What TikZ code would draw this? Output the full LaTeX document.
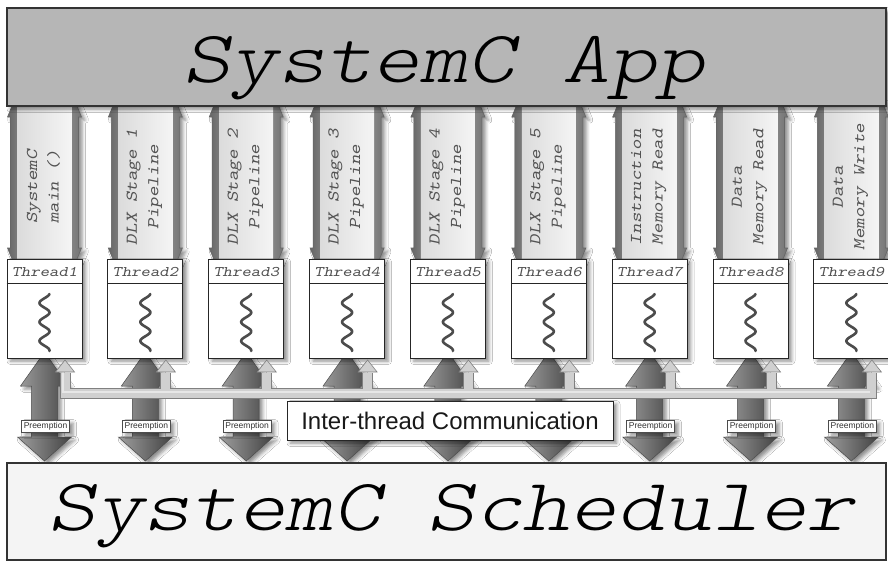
\documentclass[tikz,border=0pt]{standalone}
\usepackage{fontspec}
\newfontfamily\sansf{Liberation Sans}
\usetikzlibrary{shadows.blur}
\definecolor{appgray}{RGB}{182,182,182}
\definecolor{schedfill}{RGB}{244,244,244}
\definecolor{pipegray}{RGB}{208,208,208}
% slanted typewriter text, widened to Courier proportions
\newcommand\courtext[1]{\scalebox{1.22}[1]{\ttfamily\slshape #1}}
\newcommand\courlight[1]{\scalebox{1.22}[1]{\ttfamily\fontseries{l}\slshape #1}}
\tikzset{
  softshadow/.style={blur shadow={shadow xshift=3.5pt, shadow yshift=-3pt,
      shadow blur radius=3.5pt, shadow opacity=45}},
  banner/.style={draw=black!80, line width=1.1pt, inner sep=0pt},
  bigtext/.style={font=\fontsize{74}{75}\selectfont,
      text=black, inner sep=0pt},
  coltext/.style={font=\fontsize{16.5}{21.5}\selectfont,
      text=black!68, align=center, inner sep=0pt},
  threadbox/.style={draw=black!85, line width=0.8pt, fill=white,
      minimum width=75pt, minimum height=99pt, inner sep=0pt},
  threadlabel/.style={font=\fontsize{14.7}{15}\selectfont,
      text=black!68, inner sep=0pt},
  squig/.style={line width=2.6pt, black!70, line cap=round},
  prelabel/.style={draw=black!70, line width=0.5pt, fill=white,
      font=\sansf\fontsize{8.5}{9}\selectfont, text=black!80,
      minimum width=48pt, minimum height=12pt, inner sep=0.5pt},
  commbox/.style={draw=black!85, line width=0.9pt, fill=white,
      font=\sansf\fontsize{24}{26}\selectfont, text=black!90,
      minimum width=326pt, minimum height=39pt, inner sep=0pt},
  twoway/.style={draw=black!60, line width=0.6pt},
  pre/.style={draw=black!70, line width=0.5pt, left color=black!38, right color=black!74},
  smallhead/.style={draw=black!50, line width=0.6pt, fill=pipegray},
}
\begin{document}
\begin{tikzpicture}[x=1pt,y=-1pt]
\useasboundingbox (0,0) rectangle (888,562);
\fill[white] (0,0) rectangle (888,562);

% vertical two-way arrows between the application and the threads
\foreach \i/\a/\b in {1/{SystemC}/{main ()},
                      2/{DLX Stage 1}/{Pipeline},
                      3/{DLX Stage 2}/{Pipeline},
                      4/{DLX Stage 3}/{Pipeline},
                      5/{DLX Stage 4}/{Pipeline},
                      6/{DLX Stage 5}/{Pipeline},
                      7/{Instruction}/{Memory Read},
                      8/{Data}/{Memory Read},
                      9/{Data}/{Memory Write}}{
  \pgfmathsetmacro\cx{44.5+(\i-1)*100.86}
  \path[twoway, softshadow, left color=black!60, right color=black!55, middle color=black!30]
    (\cx-30,100) -- (\cx+30,100) -- (\cx+37,117) -- (\cx+34,117) -- (\cx+34,248)
    -- (\cx+37,248) -- (\cx+30,265) -- (\cx-30,265) -- (\cx-37,248) -- (\cx-34,248)
    -- (\cx-34,117) -- (\cx-37,117) -- cycle;
  \fill[left color=black!14, right color=black!4] (\cx-27,106) rectangle (\cx+27,259);
  \node[coltext, rotate=90] (lab\i) at (\cx-1,187) {\courtext{\a}\\\courtext{\b}};
}

% application banner
\node[banner, fill=appgray, softshadow, minimum width=879pt, minimum height=98pt]
  (app) at (446.5,57) {};
\node[bigtext, anchor=base] (apptext) at (444,82) {\courlight{SystemC App}};

% preemption arrows between the threads and the scheduler
\foreach \i in {1,...,9}{
  \pgfmathsetmacro\cx{44.5+(\i-1)*100.86}
  \path[pre, softshadow]
    (\cx,352) -- (\cx+24,386) -- (\cx+13,386) -- (\cx+13,437) -- (\cx+27,437)
    -- (\cx,461) -- (\cx-27,437) -- (\cx-13,437) -- (\cx-13,386) -- (\cx-24,386) -- cycle;
}

% thread boxes
\foreach \i in {1,...,9}{
  \pgfmathsetmacro\cx{44.5+(\i-1)*100.86}
  \node[threadbox, softshadow] (thr\i) at (\cx,308.5) {};
  \draw[black!85, line width=0.8pt] ([yshift=-25pt]thr\i.north west) -- ([yshift=-25pt]thr\i.north east);
  \node[threadlabel] (tl\i) at ([yshift=-13pt]thr\i.north) {\courtext{Thread\i}};
  \draw[squig] plot[domain=0:57, samples=90] ({\cx+5*sin(\x*18.95+100)}, {294+\x});
  \coordinate (bus\i) at (\cx+20.5,393);
  \coordinate (stem\i) at (\cx+20.5,373);
}

% inter-thread communication bus
\begin{scope}[line join=miter]
  \draw[line width=11pt, black, opacity=0.18, xshift=3pt, yshift=-3pt]
    (stem1) -- (bus1) -- (bus9) -- (stem9);
  \draw[line width=11pt, black!50] (stem1) -- (bus1) -- (bus9) -- (stem9);
  \foreach \i in {2,...,8}{\draw[line width=11pt, black!50] (bus\i) -- (stem\i);}
  \draw[line width=9pt, pipegray] (stem1) -- (bus1) -- (bus9) -- (stem9);
  \foreach \i in {2,...,8}{\draw[line width=9pt, pipegray] ([yshift=4pt]bus\i) -- (stem\i);}
  \draw[line width=2pt, white, opacity=0.5] ([xshift=-2pt,yshift=1.5pt]stem1) -- ([xshift=-2pt,yshift=1.5pt]bus1) -- ([xshift=-2pt,yshift=1.5pt]bus9);
\end{scope}
\foreach \i in {1,...,9}{
  \path[smallhead] ([xshift=-9.5pt,yshift=1pt]stem\i) -- ([yshift=13pt]stem\i)
    -- ([xshift=9.5pt,yshift=1pt]stem\i) -- cycle;
}

% preemption labels
\foreach \i in {1,2,3,7,8,9}{
  \pgfmathsetmacro\cx{44.5+(\i-1)*100.86}
  \node[prelabel, softshadow] (pre\i) at (\cx+1,426) {Preemption};
}

% communication label
\node[commbox, softshadow] (comm) at (450,420.5) {Inter-thread Communication};

% scheduler banner
\node[banner, fill=schedfill, minimum width=879pt, minimum height=97pt]
  (sched) at (446.5,511.5) {};
\node[bigtext, anchor=base] (schedtext) at (451.5,530) {\courlight{SystemC Scheduler}};
\end{tikzpicture}
\end{document}
